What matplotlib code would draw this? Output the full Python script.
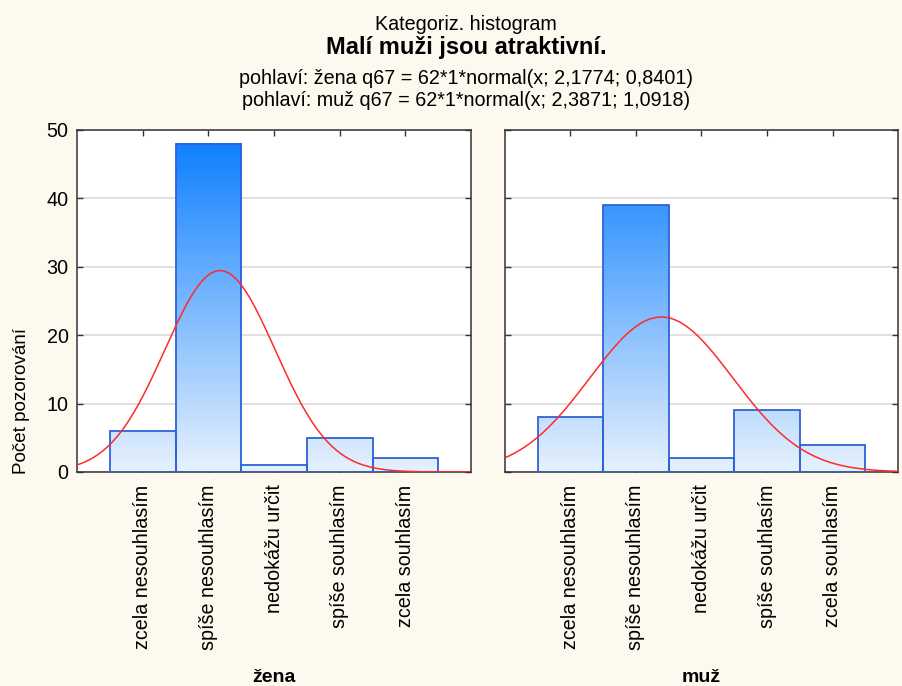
"""
Kategorizovaný histogram: Malí muži jsou atraktivní.
Dos paneles (žena / muž) con barras en degradé y la curva normal ajustada.
"""

import numpy as np
import matplotlib.pyplot as plt
from matplotlib.colors import LinearSegmentedColormap, Normalize

# Categorías de respuesta (escala Likert, codificadas 1..5)
KATEGORIE = ["zcela nesouhlasím", "spíše nesouhlasím", "nedokážu určit",
             "spíše souhlasím", "zcela souhlasím"]

# Frecuencias
CETNOST_ZENA = [6, 48, 1, 5, 2]
CETNOST_MUZ = [8, 39, 2, 9, 4]

# Parámetros de la normal que figuran en el subtítulo: N, media, desvío
PANELY = ["žena", "muž"]
N_POZOROVANI = [62, 62]
PRUMER = [2.1774, 2.3871]
SMER_ODCHYLKA = [0.8401, 1.0918]
PRUMER_TXT = ["2,1774", "2,3871"]
SD_TXT = ["0,8401", "1,0918"]

Y_TICKS = [0, 10, 20, 30, 40, 50]

FONDO = "#FEF9EE"
BORDE_BARRA = "#2F62D8"
ROJO = "#FF2A2A"

# Degradé del relleno: depende del valor (0 claro, 50 azul fuerte)
degrade = LinearSegmentedColormap.from_list("modre", ["#E6F1FD", "#087CFF"])

plt.rcParams["font.family"] = ["Liberation Sans", "DejaVu Sans"]


def dibujar_panel(ax, valores, n, mu, sd, mostrar_y):
    """Dibuja un panel: barras con degradé, borde azul y curva normal."""
    posiciones = np.arange(1, len(valores) + 1)
    norm = Normalize(vmin=0, vmax=50)

    for x, v in zip(posiciones, valores):
        # el degradé se pinta con imshow limitado al rectángulo de la barra
        grad = np.linspace(0, v, 100).reshape(-1, 1)
        ax.imshow(grad, extent=(x - 0.5, x + 0.5, 0, v), origin="lower",
                  cmap=degrade, norm=norm, aspect="auto", zorder=2,
                  interpolation="bilinear")
    ax.bar(posiciones, valores, width=1.0, facecolor="none",
           edgecolor=BORDE_BARRA, linewidth=1.3, zorder=3)

    # Curva normal escalada: n * 1 * normal(x; mu, sd)
    xs = np.linspace(0, 6, 400)
    ys = n * np.exp(-0.5 * ((xs - mu) / sd) ** 2) / (sd * np.sqrt(2 * np.pi))
    ax.plot(xs, ys, color=ROJO, linewidth=1.1, zorder=4)

    ax.set_xlim(0, 6)
    ax.set_ylim(0, 50)
    ax.set_yticks(Y_TICKS)
    ax.set_xticks(posiciones)
    ax.set_xticklabels(KATEGORIE, rotation=90, fontsize=13.8)
    ax.grid(axis="y", color="#DADADA", linewidth=1.2, zorder=0)
    ax.set_axisbelow(True)
    ax.tick_params(direction="in", length=4, width=1, color="#333333",
                   top=True, right=True, labelsize=14.2, pad=6)
    ax.tick_params(axis="x", pad=9)
    if not mostrar_y:
        ax.tick_params(axis="y", labelleft=False)
    for s in ax.spines.values():
        s.set_color("#333333")
        s.set_linewidth(1.1)
    ax.set_facecolor("white")


fig = plt.figure(figsize=(9.03, 6.86), dpi=100, facecolor=FONDO)
ax1 = fig.add_axes([0.0853, 0.312, 0.4363, 0.4985])
ax2 = fig.add_axes([0.5592, 0.312, 0.4353, 0.4985])

datos = [CETNOST_ZENA, CETNOST_MUZ]
for i, ax in enumerate([ax1, ax2]):
    dibujar_panel(ax, datos[i], N_POZOROVANI[i], PRUMER[i],
                  SMER_ODCHYLKA[i], mostrar_y=(i == 0))
    centro = (ax.get_position().x0 + ax.get_position().x1) / 2
    fig.text(centro, 1 - 677 / 686, PANELY[i], ha="center", va="center",
             fontsize=14, fontweight="bold")

# Títulos
cx = 0.516
fig.text(cx, 0.965, "Kategoriz. histogram", ha="center", va="center",
         fontsize=14.2)
fig.text(cx, 0.931, "Malí muži jsou atraktivní.", ha="center", va="center",
         fontsize=17, fontweight="bold")
for i, y in enumerate([0.886, 0.854]):
    fig.text(cx, y,
             f"pohlaví: {PANELY[i]} q67 = {N_POZOROVANI[i]}*1*normal(x; "
             f"{PRUMER_TXT[i]}; {SD_TXT[i]})",
             ha="center", va="center", fontsize=14.2)

fig.text(22 / 903, 1 - 401 / 686, "Počet pozorování", rotation=90,
         ha="center", va="center", fontsize=13.6)

plt.savefig("out.png", dpi=100, facecolor=FONDO)
plt.close()
